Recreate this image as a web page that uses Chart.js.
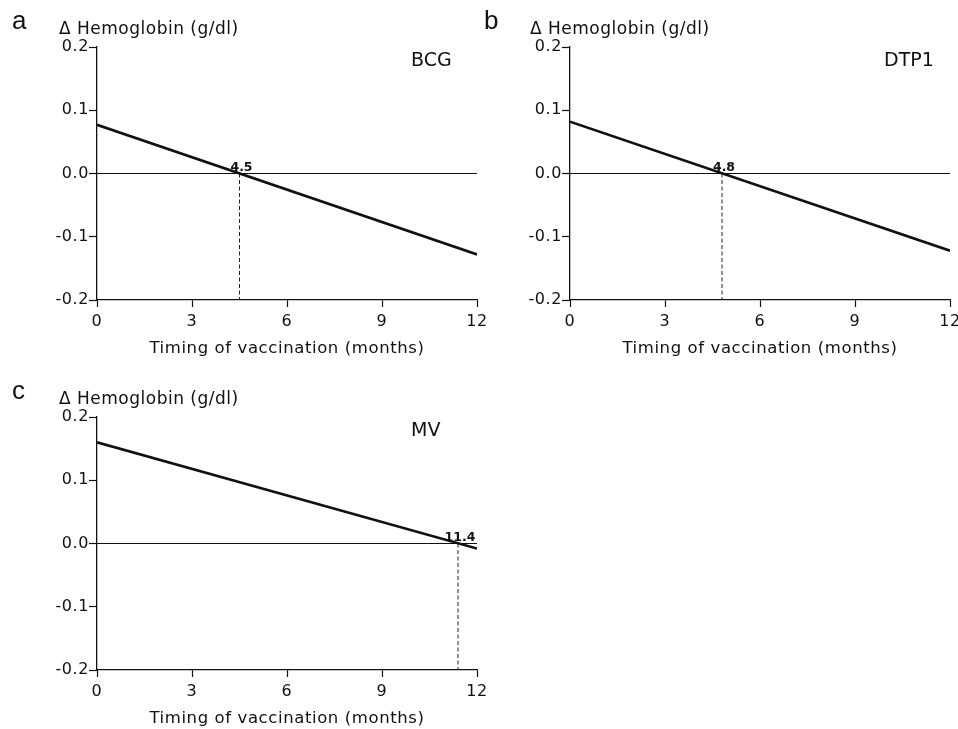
<!DOCTYPE html>
<html>
<head>
<meta charset="utf-8">
<script src="https://cdn.jsdelivr.net/npm/chart.js@4.4.0/dist/chart.umd.min.js"></script>
<style>
  body { margin: 0; width: 958px; height: 729px; overflow: hidden; background: #fff; position: relative; }
  canvas { position: absolute; }
  .letter { position: absolute; font: 26px/26px "Liberation Sans", Arial, sans-serif; color: #111; }
  .ytitle { position: absolute; font: 17px/17px "DejaVu Sans", sans-serif; letter-spacing: 0.5px; color: #111; white-space: nowrap; }
</style>
</head>
<body>
<canvas id="graph1" width="494" height="370" style="left:0px;top:0px"></canvas>
<canvas id="graph2" width="494" height="370" style="left:473px;top:0px"></canvas>
<canvas id="graph3" width="494" height="370" style="left:0px;top:370px"></canvas>

<div class="letter" style="left:12px;top:7px">a</div>
<div class="letter" style="left:484px;top:7px">b</div>
<div class="letter" style="left:12px;top:377px">c</div>
<div class="ytitle" style="left:59px;top:20px">Δ Hemoglobin (g/dl)</div>
<div class="ytitle" style="left:530px;top:20px">Δ Hemoglobin (g/dl)</div>
<div class="ytitle" style="left:59px;top:390px">Δ Hemoglobin (g/dl)</div>

<script>
// values
const vaccines = ['BCG', 'DTP1', 'MV'];
const lineStart = [0.077, 0.082, 0.160];   // at 0 months
const lineEnd = [-0.128, -0.122, -0.008];  // at 12 months
const crossing = [4.5, 4.8, 11.4];
const xTicks = [0, 3, 6, 9, 12];
const yTicks = [-0.2, -0.1, 0.0, 0.1, 0.2];

const xTitle = 'Timing of vaccination (months)';
const ink = '#111';

const labelPlugin = {
  id: 'panelLabels',
  beforeDraw(chart) {
    chart.ctx.letterSpacing = '0.6px';
  },
  afterDatasetsDraw(chart, args, opts) {
    const ctx = chart.ctx;
    const area = chart.chartArea;
    const x = chart.scales.x, y = chart.scales.y;
    ctx.save();
    ctx.letterSpacing = '0px';
    ctx.fillStyle = ink;
    ctx.font = '19px "DejaVu Sans"';
    ctx.textAlign = 'left';
    ctx.textBaseline = 'alphabetic';
    ctx.fillText(opts.name, area.left + 314, area.top + 19);
    ctx.font = 'bold 12.5px "DejaVu Sans"';
    ctx.textAlign = 'center';
    ctx.fillText(opts.cross.toFixed(1), x.getPixelForValue(opts.cross) + 2, y.getPixelForValue(0) - 3);
    ctx.restore();
  }
};

var charts = [];
for (var i = 0; i < vaccines.length; i++) {
  charts.push(new Chart(document.getElementById(`graph${i+1}`), {
    type: 'line',
    data: {
      datasets: [{
        data: [{x: xTicks[0], y: lineStart[i]}, {x: xTicks[xTicks.length-1], y: lineEnd[i]}],
        borderColor: ink,
        borderWidth: 2.6,
        pointRadius: 0
      }, {
        data: [{x: xTicks[0], y: 0}, {x: xTicks[xTicks.length-1], y: 0}],
        borderColor: '#111',
        borderWidth: 1,
        pointRadius: 0
      }, {
        data: [{x: crossing[i], y: 0}, {x: crossing[i], y: yTicks[0]}],
        borderColor: '#222',
        borderWidth: 1,
        borderDash: [4, 2.5],
        pointRadius: 0
      }]
    },
    options: {
      responsive: false,
      animation: false,
      layout: {
        padding: {left: 40, top: 47, right: 17, bottom: 11}
      },
      plugins: {
        legend: {display: false},
        tooltip: {enabled: false},
        panelLabels: {name: vaccines[i], cross: crossing[i]}
      },
      scales: {
        x: {
          type: 'linear',
          min: xTicks[0],
          max: xTicks[xTicks.length-1],
          afterBuildTicks: (scale) => { scale.ticks = xTicks.map((v) => ({value: v})); },
          afterFit: (scale) => { scale.height = 59; },
          ticks: {
            color: ink,
            font: {family: 'DejaVu Sans', size: 16},
            padding: 5,
            maxRotation: 0
          },
          grid: {drawOnChartArea: false, color: ink, tickLength: 7, tickWidth: 1.2},
          border: {color: ink, width: 1.3},
          title: {
            display: true,
            text: xTitle,
            color: ink,
            font: {family: 'DejaVu Sans', size: 16.5},
            padding: 0
          }
        },
        y: {
          min: yTicks[0],
          max: yTicks[yTicks.length-1],
          afterBuildTicks: (scale) => { scale.ticks = yTicks.map((v) => ({value: v})); },
          afterFit: (scale) => { scale.width = 57; },
          ticks: {
            color: ink,
            font: {family: 'DejaVu Sans', size: 16},
            padding: 0,
            callback: (v) => v.toFixed(1)
          },
          grid: {drawOnChartArea: false, color: ink, tickLength: 8, tickWidth: 1.2},
          border: {color: ink, width: 1.3}
        }
      }
    },
    plugins: [labelPlugin]
  }));
}
</script>
</body>
</html>
